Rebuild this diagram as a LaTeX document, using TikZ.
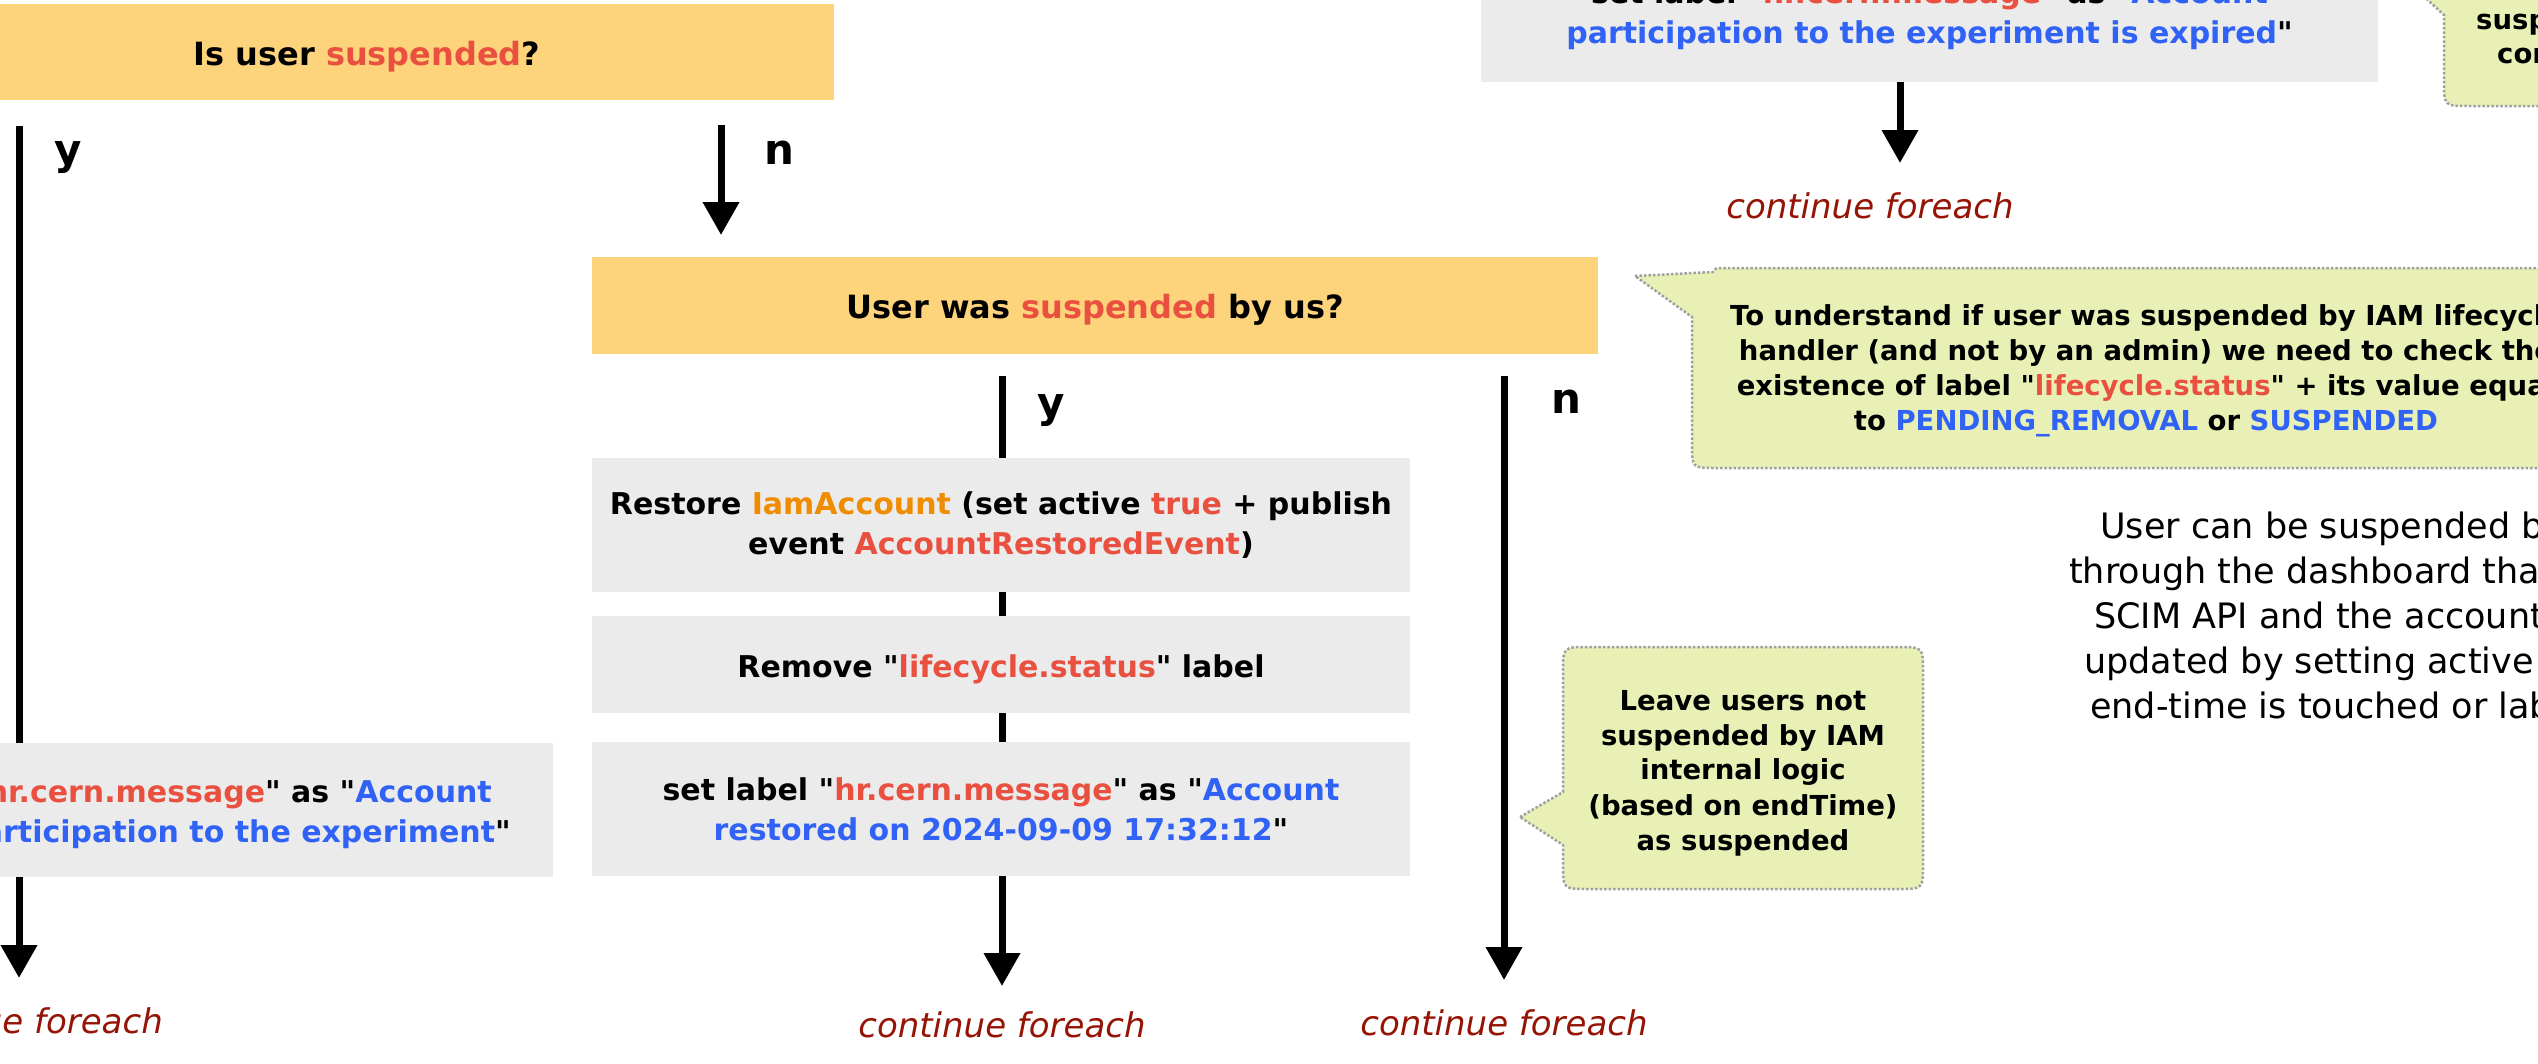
\documentclass[tikz,border=0pt]{standalone}
\usepackage{fontspec}
\setmainfont{DejaVu Sans}[Ligatures=TeXOff]
\usetikzlibrary{arrows.meta}
\definecolor{ybox}{RGB}{253,212,123}
\definecolor{gbox}{RGB}{235,235,235}
\definecolor{cfill}{RGB}{232,240,182}
\definecolor{cline}{RGB}{160,160,160}
\definecolor{tred}{RGB}{234,80,64}
\definecolor{tblue}{RGB}{48,98,245}
\definecolor{torange}{RGB}{240,140,0}
\definecolor{tdark}{RGB}{150,20,5}
\newcommand{\cred}[1]{\textcolor{tred}{#1}}
\newcommand{\cblue}[1]{\textcolor{tblue}{#1}}
\newcommand{\corange}[1]{\textcolor{torange}{#1}}
\begin{document}
\begin{tikzpicture}[x=1pt,y=-1pt,
  ybx/.style={fill=ybox, inner sep=0pt, font=\bfseries\fontsize{32}{40}\selectfont, text height=26pt, text depth=0pt},
  gbx/.style={fill=gbox, inner sep=0pt, align=center, font=\bfseries\fontsize{30}{40}\selectfont},
  gtext/.style={inner sep=0pt, font=\bfseries\fontsize{30}{40}\selectfont},
  note/.style={fill=cfill, draw=cline, line width=2.5pt, dash pattern=on 2.5pt off 2pt},
  ntext/.style={inner sep=0pt, font=\bfseries\fontsize{27.5}{35}\selectfont},
  conn/.style={line width=7pt},
  arr/.style={line width=7pt, -{Triangle[width=35pt,length=33pt]}},
  lbl/.style={font=\bfseries\fontsize{42}{42}\selectfont, inner sep=0pt},
  cont/.style={font=\itshape\fontsize{34}{34}\selectfont, text=tdark, inner sep=0pt},
  plain/.style={font=\fontsize{35}{45}\selectfont, inner sep=0pt}]
\useasboundingbox (0,0) rectangle (2538,1063);
\fill[white] (0,0) rectangle (2538,1063);

% decision boxes
\node[ybx, minimum width=934pt, minimum height=96pt] (qa) at (367,52) {Is user \cred{suspended}?};
\node[ybx, minimum width=1006pt, minimum height=97pt] (qb) at (1095,305.5) {User was \cred{suspended} by us?};

% action boxes
\node[gbx, minimum width=818pt, minimum height=134pt] (rc) at (1001,525)
  {Restore \corange{IamAccount} (set active \cred{true} + publish\\event \cred{AccountRestoredEvent})};
\node[gbx, minimum width=818pt, minimum height=97pt, text height=26pt, text depth=0pt] (rd) at (1001,664.5)
  {Remove "\cred{lifecycle.status}" label};
\node[gbx, minimum width=818pt, minimum height=134pt] (re) at (1001,809)
  {set label "\cred{hr.cern.message}" as "\cblue{Account}\\\cblue{restored on 2024-09-09 17:32:12}"};
\node[fill=gbox, inner sep=0pt, minimum width=818pt, minimum height=134pt] (rf) at (144,810) {};
\node[gtext, anchor=base east] (rf1) at (492,802) {set label "\cred{hr.cern.message}" as "\cblue{Account}};
\node[gtext, anchor=base east] (rf2) at (511,842) {\cblue{participation to the experiment}"};
\node[gbx, minimum width=897pt, minimum height=134pt] (rg) at (1929.5,15)
  {set label "\cred{hr.cern.message}" as "\cblue{Account}\\\cblue{participation to the experiment is expired}"};

% connectors
\coordinate (ay) at (19,126);
\coordinate (ftip) at (19,978);
\draw[conn] (ay) -- (ay |- rf.north);
\draw[arr] (ay |- rf.south) -- (ftip);
\coordinate (an) at (721,125);
\coordinate (antip) at (721,235);
\draw[arr] (an) -- (antip);
\coordinate (by) at (1002,376);
\draw[conn] (by) -- (by |- rc.north);
\draw[conn] (by |- rc.south) -- (by |- rd.north);
\draw[conn] (by |- rd.south) -- (by |- re.north);
\coordinate (etip) at (1002,986);
\draw[arr] (by |- re.south) -- (etip);
\coordinate (bn) at (1504,376);
\coordinate (bntip) at (1504,980);
\draw[arr] (bn) -- (bntip);
\coordinate (gtip) at (1900,163);
\draw[arr] (gtip |- rg.south) -- (gtip);

% branch labels
\node[lbl, anchor=base west] (ya) at (54,164) {y};
\node[lbl, anchor=base west] (na) at (764,164) {n};
\node[lbl, anchor=base west] (yb) at (1037,417) {y};
\node[lbl, anchor=base west] (nb) at (1551,413) {n};

% continue foreach
\node[cont, anchor=base east] (c1) at (163,1033) {continue foreach};
\node[cont, anchor=base] (c2) at (1002,1037) {continue foreach};
\node[cont, anchor=base] (c3) at (1504,1035) {continue foreach};
\node[cont, anchor=base] (c4) at (1870,218) {continue foreach};

% callout top right
\draw[note] (2390,-35) -- (2444,15) -- (2444,81) .. controls (2444,106) .. (2469,106) -- (2640,106) -- (2640,-70) -- (2390,-70) -- cycle;
\node[ntext, anchor=base west] (nh1) at (2476,29) {susp};
\node[ntext, anchor=base west] (nh2) at (2497,63) {con};

% callout suspended by us
\draw[note] (1635,276) -- (1713,272) .. controls (1716,268) .. (1722,268) -- (2640,268) -- (2640,468) -- (1716,468) .. controls (1692,468) .. (1692,444) -- (1692,317) -- cycle;
\node[ntext, anchor=base] (ni1) at (2146,325) {To understand if user was suspended by IAM lifecycle};
\node[ntext, anchor=base] (ni2) at (2146,360) {handler (and not by an admin) we need to check the};
\node[ntext, anchor=base] (ni3) at (2146,395) {existence of label "\cred{lifecycle.status}" + its value equal};
\node[ntext, anchor=base] (ni4) at (2146,430) {to \cblue{PENDING\_REMOVAL} or \cblue{SUSPENDED}};

% callout leave users
\draw[note] (1520,817) -- (1563,792) -- (1563,672) .. controls (1563,647) .. (1588,647) -- (1898,647) .. controls (1923,647) .. (1923,672) -- (1923,864) .. controls (1923,889) .. (1898,889) -- (1588,889) .. controls (1563,889) .. (1563,864) -- (1563,845) -- cycle;
\node[ntext, anchor=base] (nj1) at (1743,710) {Leave users not};
\node[ntext, anchor=base] (nj2) at (1743,745) {suspended by IAM};
\node[ntext, anchor=base] (nj3) at (1743,779) {internal logic};
\node[ntext, anchor=base] (nj4) at (1743,815) {(based on endTime)};
\node[ntext, anchor=base] (nj5) at (1743,850) {as suspended};

% plain remark
\node[plain, anchor=base west] (p1) at (2100,538) {User can be suspended b};
\node[plain, anchor=base west] (p2) at (2069,583) {through the dashboard that};
\node[plain, anchor=base west] (p3) at (2094,628) {SCIM API and the account};
\node[plain, anchor=base west] (p4) at (2084,673) {updated by setting active =};
\node[plain, anchor=base west] (p5) at (2090,718) {end-time is touched or lab};
\end{tikzpicture}
\end{document}
